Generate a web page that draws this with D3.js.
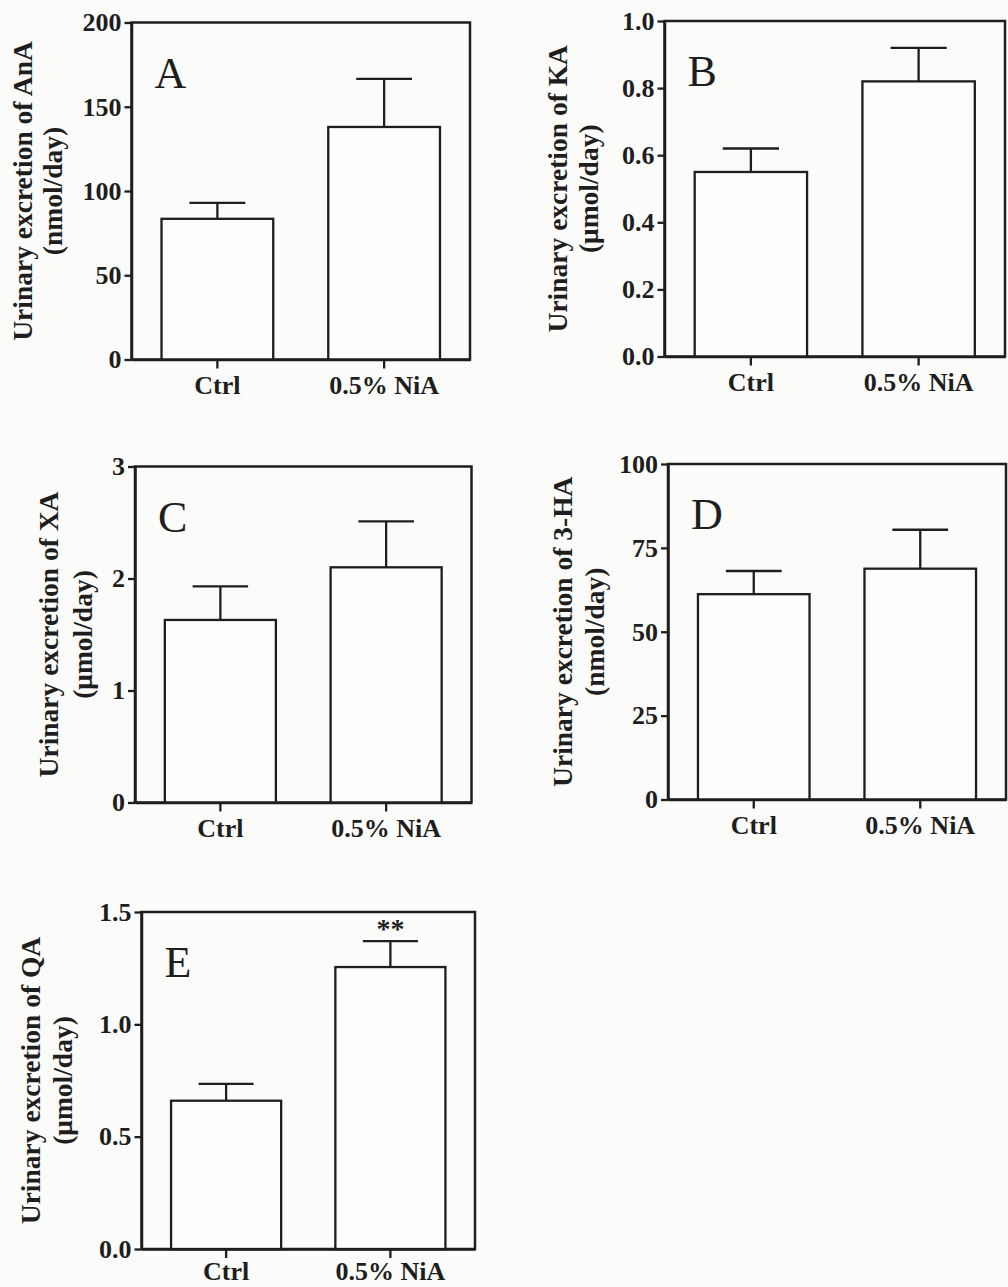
<!DOCTYPE html>
<html>
<head>
<meta charset="utf-8">
<script src="https://cdn.jsdelivr.net/npm/d3@7"></script>
<style>
  html, body { margin: 0; padding: 0; background: #fbfbf9; }
  svg { display: block; }
  text { font-family: "Liberation Serif", "Times New Roman", serif; fill: #1e1e1e; }
</style>
</head>
<body>
<script>
// ---- data ----
const categories = ["Ctrl", "0.5% NiA"];
const panelLetters = ["A", "B", "C", "D", "E"];
const titleLines = [
  "Urinary excretion of AnA",
  "Urinary excretion of KA",
  "Urinary excretion of XA",
  "Urinary excretion of 3-HA",
  "Urinary excretion of QA"
];
const unitLines = ["(nmol/day)", "(\u03bcmol/day)", "(\u03bcmol/day)", "(nmol/day)", "(\u03bcmol/day)"];
const ctrlMean = [83.5, 0.55, 1.63, 61.2, 0.66];
const ctrlSem  = [9.5, 0.07, 0.30, 6.9, 0.075];
const niaMean  = [138, 0.82, 2.10, 68.8, 1.255];
const niaSem   = [28.5, 0.10, 0.41, 11.6, 0.115];
const niaSignif = ["", "", "", "", "**"];
const yMax = [200, 1.0, 3, 100, 1.5];
const yTickValues = [
  [0, 50, 100, 150, 200],
  [0, 0.2, 0.4, 0.6, 0.8, 1.0],
  [0, 1, 2, 3],
  [0, 25, 50, 75, 100],
  [0, 0.5, 1.0, 1.5]
];
const yTickLabels = [
  ["0", "50", "100", "150", "200"],
  ["0.0", "0.2", "0.4", "0.6", "0.8", "1.0"],
  ["0", "1", "2", "3"],
  ["0", "25", "50", "75", "100"],
  ["0.0", "0.5", "1.0", "1.5"]
];

// ---- layout (positions only) ----
const layout = [
  { x0: 131.5, x1: 470,  top: 22.5, bottom: 359.5,  t1: 32, t2: 62, xpad: 7 },
  { x0: 664.5, x1: 1005, top: 21,   bottom: 356.5,  t1: 567, t2: 598, xpad: 7 },
  { x0: 135,   x1: 471.5, top: 466.5, bottom: 802.5, t1: 58, t2: 92, xpad: 7 },
  { x0: 668,   x1: 1006, top: 464,  bottom: 799.5,  t1: 572, t2: 604, xpad: 7 },
  { x0: 141.5, x1: 475,  top: 912,  bottom: 1249,   t1: 40, t2: 72, xpad: 4 }
];

const W = 1008, H = 1287;
const ink = "#1e1e1e";
const svg = d3.select("body").append("svg").attr("width", W).attr("height", H);

panelLetters.forEach((letter, i) => {
  const L = layout[i];
  const g = svg.append("g");
  const y = d3.scaleLinear().domain([0, yMax[i]]).range([L.bottom, L.top]);
  const x = d3.scaleBand().domain(categories).range([L.x0, L.x1])
    .paddingInner(0.33).paddingOuter(0.18);

  const means = [ctrlMean[i], niaMean[i]];
  const sems = [ctrlSem[i], niaSem[i]];
  const rows = categories.map((c, k) => ({ cat: c, mean: means[k], sem: sems[k], sig: k === 1 ? niaSignif[i] : "" }));

  // frame (top and right)
  g.append("rect")
    .attr("x", L.x0).attr("y", y(yMax[i]))
    .attr("width", L.x1 - L.x0).attr("height", y(0) - y(yMax[i]))
    .attr("fill", "none").attr("stroke", ink).attr("stroke-width", 2.5);

  // bars
  g.selectAll("rect.bar").data(rows).join("rect")
    .attr("class", "bar")
    .attr("x", d => x(d.cat)).attr("width", x.bandwidth())
    .attr("y", d => y(d.mean)).attr("height", d => y(0) - y(d.mean))
    .attr("fill", "#fdfdfd").attr("stroke", ink).attr("stroke-width", 2.3);

  // error bars (upper only)
  const cap = x.bandwidth() * 0.5;
  g.selectAll("line.err").data(rows).join("line")
    .attr("class", "err")
    .attr("x1", d => x(d.cat) + x.bandwidth() / 2).attr("x2", d => x(d.cat) + x.bandwidth() / 2)
    .attr("y1", d => y(d.mean)).attr("y2", d => y(d.mean + d.sem))
    .attr("stroke", ink).attr("stroke-width", 2.3);
  g.selectAll("line.cap").data(rows).join("line")
    .attr("class", "cap")
    .attr("x1", d => x(d.cat) + x.bandwidth() / 2 - cap / 2).attr("x2", d => x(d.cat) + x.bandwidth() / 2 + cap / 2)
    .attr("y1", d => y(d.mean + d.sem)).attr("y2", d => y(d.mean + d.sem))
    .attr("stroke", ink).attr("stroke-width", 2.3);

  // significance marks
  g.selectAll("text.sig").data(rows.filter(d => d.sig)).join("text")
    .attr("class", "sig")
    .attr("x", d => x(d.cat) + x.bandwidth() / 2)
    .attr("y", d => y(d.mean + d.sem) - 3)
    .attr("text-anchor", "middle")
    .attr("font-size", 28).attr("font-weight", "bold")
    .attr("fill", "#3a3a3a")
    .text(d => d.sig);

  // y axis
  const yAxis = d3.axisLeft(y).tickValues(yTickValues[i])
    .tickFormat((v, k) => yTickLabels[i][k])
    .tickSize(7).tickPadding(3).tickSizeOuter(0);
  const ya = g.append("g").attr("transform", `translate(${L.x0},0)`).call(yAxis);
  ya.select(".domain").attr("stroke", ink).attr("stroke-width", 2.5);
  ya.selectAll(".tick line").attr("stroke", ink).attr("stroke-width", 2.3);
  ya.selectAll(".tick text").attr("font-size", 26).attr("font-weight", "bold")
    .attr("font-family", "Liberation Serif, serif").attr("fill", ink);

  // x axis
  const xAxis = d3.axisBottom(x).tickSize(9).tickPadding(L.xpad).tickSizeOuter(0);
  const xa = g.append("g").attr("transform", `translate(0,${L.bottom})`).call(xAxis);
  xa.select(".domain").attr("stroke", ink).attr("stroke-width", 2.5);
  xa.selectAll(".tick line").attr("stroke", ink).attr("stroke-width", 2.3);
  xa.selectAll(".tick text").attr("font-size", 26).attr("font-weight", "bold")
    .attr("font-family", "Liberation Serif, serif").attr("fill", ink);

  // panel letter
  g.append("text")
    .attr("x", L.x0 + 23).attr("y", L.top + 65)
    .attr("font-size", 44).attr("font-weight", "normal")
    .text(letter);

  // y title (two rotated lines)
  const cy = (L.top + L.bottom) / 2;
  g.append("text")
    .attr("transform", `translate(${L.t1},${cy}) rotate(-90)`)
    .attr("text-anchor", "middle")
    .attr("font-size", 27.5).attr("font-weight", "bold")
    .text(titleLines[i]);
  g.append("text")
    .attr("transform", `translate(${L.t2},${cy}) rotate(-90)`)
    .attr("text-anchor", "middle")
    .attr("font-size", 27.5).attr("font-weight", "bold")
    .text(unitLines[i]);
});
</script>
</body>
</html>
